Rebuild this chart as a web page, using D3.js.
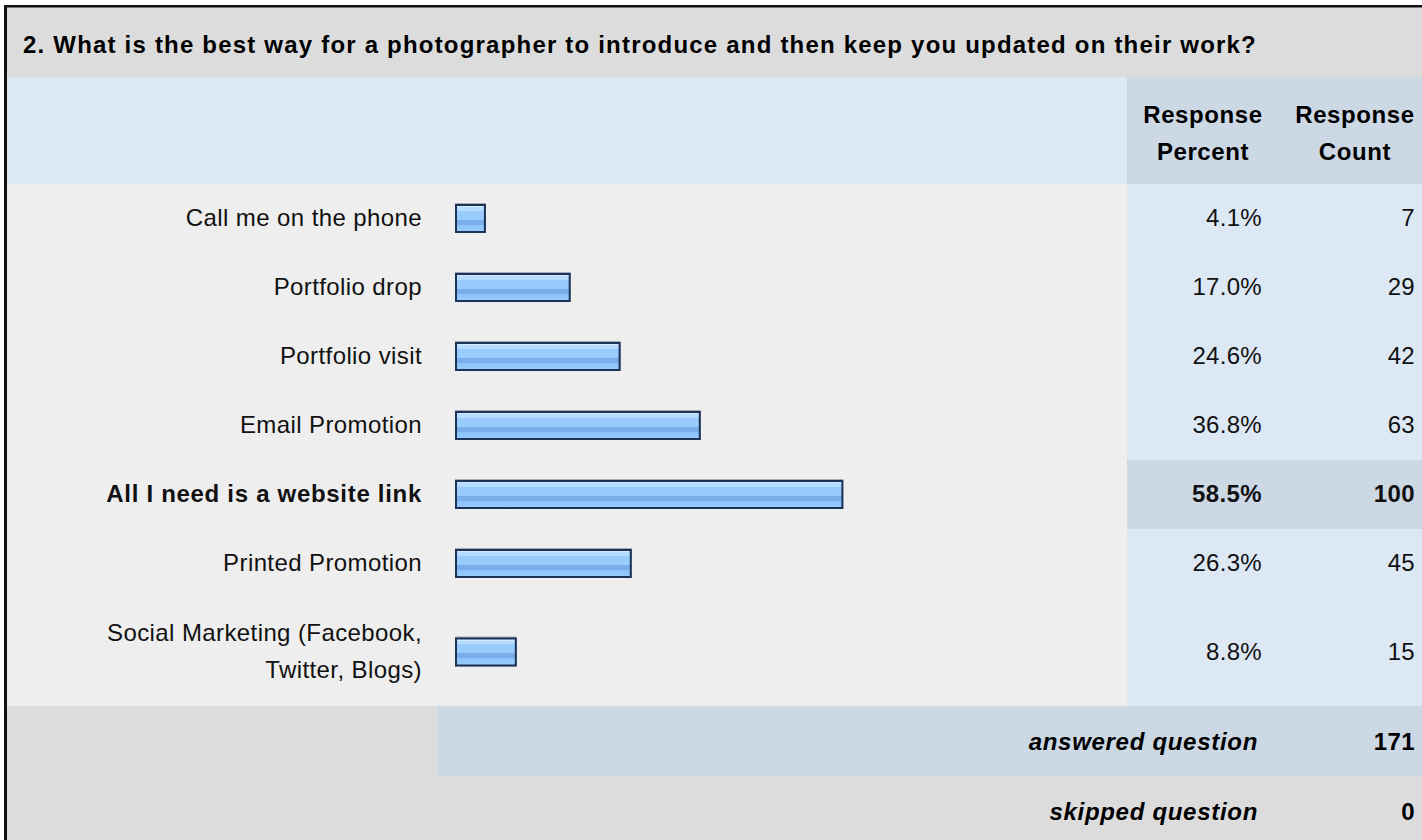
<!DOCTYPE html>
<html>
<head>
<meta charset="utf-8">
<script src="https://cdn.jsdelivr.net/npm/d3@7"></script>
<style>
  html, body { margin: 0; padding: 0; background: #ffffff; }
  svg { display: block; font-family: "Liberation Sans", Arial, Helvetica, sans-serif; }
</style>
</head>
<body>
<svg id="chart" width="1422" height="840"></svg>
<script>
// ---- data ----
const title = "2. What is the best way for a photographer to introduce and then keep you updated on their work?";
const categories = [
  "Call me on the phone",
  "Portfolio drop",
  "Portfolio visit",
  "Email Promotion",
  "All I need is a website link",
  "Printed Promotion",
  "Social Marketing (Facebook, Twitter, Blogs)"
];
const percents = [4.1, 17.0, 24.6, 36.8, 58.5, 26.3, 8.8];
const counts = [7, 29, 42, 63, 100, 45, 15];
const columnHeaders = [["Response", "Percent"], ["Response", "Count"]];
const summaryLabels = ["answered question", "skipped question"];
const summaryValues = [171, 0];

// ---- layout ----
const W = 1422, H = 840;
const frameX = 7, frameY = 7;
const titleH = 70;
const headerH = 107;
const rowBase = 69, extraLine = 39, lineH = 37;
const footerH = 70;
const colSplit = 1127;
const pctRight = 1262, cntRight = 1415;
const pctCenter = 1203, cntCenter = 1355;
const labelRight = 422, labelMaxW = 340;
const barX = 456;
const footerSplit = 438;
const fs = 24;

const C = {
  title: "#dcdcdc",
  header: "#dde8f5",
  headerCol: "#cdd8e5",
  row: "#eeeeee",
  rowCol: "#dde8f5",
  hiCol: "#cdd8e5",
  footGray: "#dcdcdc",
  footBlue: "#cdd8e5",
  text: "#111111",
  barStroke: "#1c3359"
};

const svg = d3.select("#chart");
const defs = svg.append("defs");
const grad = defs.append("linearGradient").attr("id", "barGrad")
  .attr("x1", 0).attr("y1", 0).attr("x2", 0).attr("y2", 1);
[
  [0, "#d2e9ff"], [0.09, "#d2e9ff"], [0.09, "#b6dcff"], [0.22, "#b6dcff"],
  [0.22, "#99cbfc"], [0.54, "#99cbfc"], [0.54, "#78aeea"], [0.74, "#78aeea"],
  [0.74, "#8cc3fa"], [1, "#99cbfc"]
].forEach(([o, c]) => grad.append("stop").attr("offset", o).attr("stop-color", c));

svg.append("rect").attr("width", W).attr("height", H).attr("fill", "#ffffff");

const x = d3.scaleLinear().domain([0, 100]).range([0, 657]);

// title row
let y = frameY;
svg.append("rect").attr("x", frameX).attr("y", y).attr("width", W - frameX).attr("height", titleH).attr("fill", C.title);
svg.append("text").attr("x", 23).attr("y", y + 46)
  .attr("font-size", fs).attr("font-weight", "bold").attr("letter-spacing", 1.2)
  .attr("fill", "#000").text(title);
y += titleH;

// header row
svg.append("rect").attr("x", frameX).attr("y", y).attr("width", W - frameX).attr("height", headerH).attr("fill", C.header);
svg.append("rect").attr("x", colSplit).attr("y", y).attr("width", W - colSplit).attr("height", headerH).attr("fill", C.headerCol);
[pctCenter, cntCenter].forEach((cx, i) => {
  const t = svg.append("text").attr("x", cx).attr("text-anchor", "middle")
    .attr("font-size", fs).attr("font-weight", "bold").attr("letter-spacing", 0.6).attr("fill", "#000");
  columnHeaders[i].forEach((s, j) => {
    t.append("tspan").attr("x", cx).attr("y", y + 46 + j * lineH).text(s);
  });
});
y += headerH;

const measurer = svg.append("text").attr("font-size", fs).attr("letter-spacing", 0.4).attr("visibility", "hidden");
function wrap(str, bold) {
  measurer.attr("font-weight", bold ? "bold" : "normal");
  const words = str.split(" ");
  const lines = [];
  let cur = "";
  words.forEach(w => {
    const test = cur ? cur + " " + w : w;
    measurer.text(test);
    if (measurer.node().getComputedTextLength() > labelMaxW && cur) {
      lines.push(cur); cur = w;
    } else cur = test;
  });
  if (cur) lines.push(cur);
  return lines;
}
const maxIdx = d3.maxIndex(counts);
const rows = categories.map((c, i) => {
  const bold = i === maxIdx;
  const lines = wrap(c, bold);
  const h = rowBase + (lines.length - 1) * extraLine;
  return { label: c, lines, bold, pct: percents[i], cnt: counts[i], h };
});
measurer.remove();

rows.forEach((r, i) => {
  const g = svg.append("g").attr("transform", `translate(0,${y})`);
  const cy = r.h / 2;
  g.append("rect").attr("x", frameX).attr("width", colSplit - frameX).attr("height", r.h).attr("fill", C.row);
  g.append("rect").attr("x", colSplit).attr("width", W - colSplit).attr("height", r.h).attr("fill", r.bold ? C.hiCol : C.rowCol);
  const t = g.append("text").attr("text-anchor", "end").attr("font-size", fs)
    .attr("font-weight", r.bold ? "bold" : "normal").attr("letter-spacing", r.bold ? 0.7 : 0.4).attr("fill", C.text);
  const firstBase = cy - (r.lines.length - 1) * lineH / 2 + 7.5;
  r.lines.forEach((s, j) => t.append("tspan").attr("x", labelRight).attr("y", firstBase + j * lineH).text(s));
  g.append("rect").attr("x", barX - 1).attr("y", cy - 15.5).attr("width", x(r.pct) + 4).attr("height", 30)
    .attr("fill", "#a3abb5");
  g.append("rect").attr("x", barX).attr("y", cy - 13.5).attr("width", x(r.pct) + 2).attr("height", 27)
    .attr("fill", "url(#barGrad)").attr("stroke", C.barStroke).attr("stroke-width", 2);
  g.append("text").attr("x", pctRight).attr("y", cy + 7.5).attr("text-anchor", "end")
    .attr("font-size", fs).attr("font-weight", r.bold ? "bold" : "normal").attr("letter-spacing", r.bold ? 0.4 : 0.3)
    .attr("fill", C.text).text(d3.format(".1f")(r.pct) + "%");
  g.append("text").attr("x", cntRight).attr("y", cy + 7.5).attr("text-anchor", "end")
    .attr("font-size", fs).attr("font-weight", r.bold ? "bold" : "normal").attr("letter-spacing", r.bold ? 0.4 : 0.3)
    .attr("fill", C.text).text(r.cnt);
  y += r.h;
});

summaryLabels.forEach((s, i) => {
  const g = svg.append("g").attr("transform", `translate(0,${y})`);
  g.append("rect").attr("x", frameX).attr("width", W - frameX).attr("height", footerH).attr("fill", C.footGray);
  if (i === 0) g.append("rect").attr("x", footerSplit).attr("width", W - footerSplit).attr("height", footerH).attr("fill", C.footBlue);
  g.append("text").attr("x", pctRight - 4).attr("y", footerH / 2 + 9).attr("text-anchor", "end")
    .attr("font-size", fs).attr("font-weight", "bold").attr("font-style", "italic").attr("letter-spacing", 0.7)
    .attr("fill", "#000").text(s);
  g.append("text").attr("x", cntRight).attr("y", footerH / 2 + 9).attr("text-anchor", "end")
    .attr("font-size", fs).attr("font-weight", "bold").attr("letter-spacing", 0.4)
    .attr("fill", "#000").text(summaryValues[i]);
  y += footerH;
});

svg.append("rect").attr("x", 4).attr("y", 5).attr("width", 3).attr("height", H - 5).attr("fill", "#111");
svg.append("rect").attr("x", 4).attr("y", 5).attr("width", W - 4).attr("height", 2.5).attr("fill", "#111");
</script>
</body>
</html>
